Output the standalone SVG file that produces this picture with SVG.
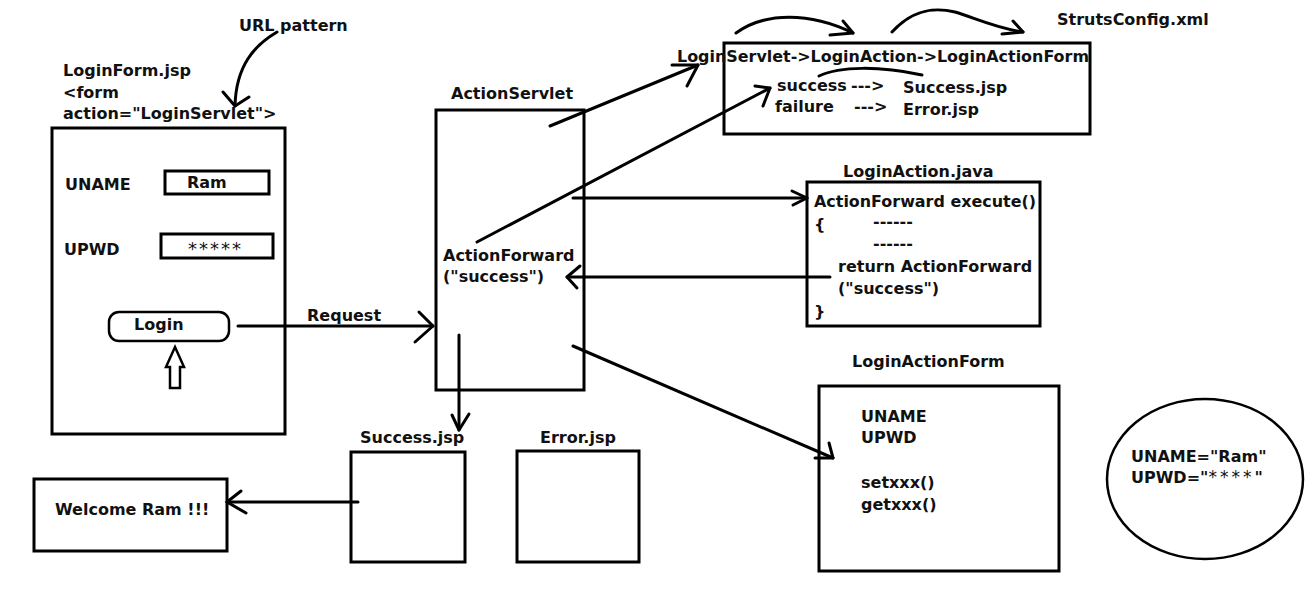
<svg xmlns="http://www.w3.org/2000/svg" width="1310" height="591" viewBox="0 0 1310 591">
<style>
text{font-family:"DejaVu Sans","Liberation Sans",sans-serif;font-weight:bold;font-size:16px;fill:#111}
.box{fill:none;stroke:#000;stroke-width:3}
.thin{fill:none;stroke:#000;stroke-width:2.5}
.ln{fill:none;stroke:#000;stroke-width:3;stroke-linecap:round;stroke-linejoin:round}
.ast{font-weight:normal;font-size:18px;letter-spacing:2px}
</style>
<rect width="1310" height="591" fill="#fff"/>

<g id="loginform">
  <text x="63" y="76">LoginForm.jsp</text>
  <text x="63" y="98">&lt;form</text>
  <text x="63" y="119">action="LoginServlet"&gt;</text>
  <rect class="box" x="52" y="128" width="233" height="306"/>
  <text x="65" y="190">UNAME</text>
  <rect class="box" x="165" y="171" width="104" height="23"/>
  <text x="187" y="188">Ram</text>
  <text x="64" y="255">UPWD</text>
  <rect class="box" x="161" y="234" width="112" height="24"/>
  <text class="ast" x="188" y="255">*****</text>
  <rect class="thin" x="109" y="312" width="120" height="29" rx="10"/>
  <text x="134" y="330">Login</text>
  <polygon class="thin" points="175,347 184,367 180,367 180,388 170,388 170,367 166,367"/>
</g>

<g id="urlpattern">
  <text x="239" y="31">URL pattern</text>
</g>

<g id="actionservlet">
  <text x="451" y="99">ActionServlet</text>
  <rect class="box" x="436" y="110" width="148" height="280"/>
  <text x="443" y="261">ActionForward</text>
  <text x="443" y="282">("success")</text>
</g>

<g id="strutsconfig">
  <text x="1057" y="25">StrutsConfig.xml</text>
  <rect class="box" x="724" y="43" width="366" height="91"/>
  <text x="677" y="62" textLength="412" lengthAdjust="spacingAndGlyphs">LoginServlet-&gt;LoginAction-&gt;LoginActionForm</text>
  <text x="777" y="91">success</text>
  <text x="851" y="91">---&gt;</text>
  <text x="903" y="93">Success.jsp</text>
  <text x="775" y="112">failure</text>
  <text x="854" y="112">---&gt;</text>
  <text x="903" y="115">Error.jsp</text>
</g>

<g id="loginaction">
  <text x="843" y="177">LoginAction.java</text>
  <rect class="box" x="807" y="182" width="233" height="144"/>
  <text x="814" y="207" textLength="222" lengthAdjust="spacingAndGlyphs">ActionForward execute()</text>
  <text x="814" y="230">{</text>
  <text x="873" y="227">------</text>
  <text x="873" y="249">------</text>
  <text x="838" y="272">return ActionForward</text>
  <text x="838" y="294">("success")</text>
  <text x="814" y="317">}</text>
</g>

<g id="loginactionform">
  <text x="852" y="367">LoginActionForm</text>
  <rect class="box" x="819" y="386" width="240" height="185"/>
  <text x="861" y="422">UNAME</text>
  <text x="861" y="443">UPWD</text>
  <text x="861" y="488">setxxx()</text>
  <text x="861" y="510">getxxx()</text>
</g>

<g id="values">
  <ellipse class="thin" cx="1205" cy="479" rx="98" ry="80"/>
  <text x="1131" y="462">UNAME="Ram"</text>
  <text x="1131" y="483">UPWD="<tspan font-weight="normal" font-size="17" letter-spacing="3">****</tspan>"</text>
</g>

<g id="successjsp">
  <text x="360" y="443">Success.jsp</text>
  <rect class="box" x="351" y="452" width="114" height="110"/>
</g>

<g id="errorjsp">
  <text x="540" y="443">Error.jsp</text>
  <rect class="box" x="517" y="451" width="122" height="111"/>
</g>

<g id="welcome">
  <rect class="box" x="34" y="479" width="193" height="72"/>
  <text x="55" y="515">Welcome Ram !!!</text>
</g>

<g id="connectors">
  <path class="ln" d="M277,32 C255,45 236,65 235,106"/>
  <path class="ln" d="M223,92 L235,106 L249,97"/>
  <path class="ln" d="M238,326 L433,326"/>
  <path class="ln" d="M419,312 L433,326 L415,342"/>
  <text x="307" y="321">Request</text>
  <path class="ln" d="M550,126 L698,65"/>
  <path class="ln" d="M672,65 L698,65 L687,86"/>
  <path class="ln" d="M477,242 L770,88"/>
  <path class="ln" d="M755,86 L770,88 L763,106"/>
  <path class="ln" d="M736,33 C765,12 810,12 853,33"/>
  <path class="ln" d="M843,21 L853,33 L830,35"/>
  <path class="ln" d="M892,32 C910,12 930,6 955,12 C975,18 995,28 1023,32"/>
  <path class="ln" d="M1013,21 L1023,32 L1002,34"/>
  <path class="ln" d="M819,76 C840,66 880,66 922,75"/>
  <path class="ln" d="M573,198 L807,198"/>
  <path class="ln" d="M792,191 L807,198 L793,205"/>
  <path class="ln" d="M830,277 L567,277"/>
  <path class="ln" d="M580,266 L567,277 L577,288"/>
  <path class="ln" d="M573,346 L833,458"/>
  <path class="ln" d="M829,443 L833,458 L815,458"/>
  <path class="ln" d="M459,335 L459,430"/>
  <path class="ln" d="M452,415 L459,430 L469,414"/>
  <path class="ln" d="M358,502 L227,502"/>
  <path class="ln" d="M241,491 L227,502 L246,513"/>
</g>
</svg>
